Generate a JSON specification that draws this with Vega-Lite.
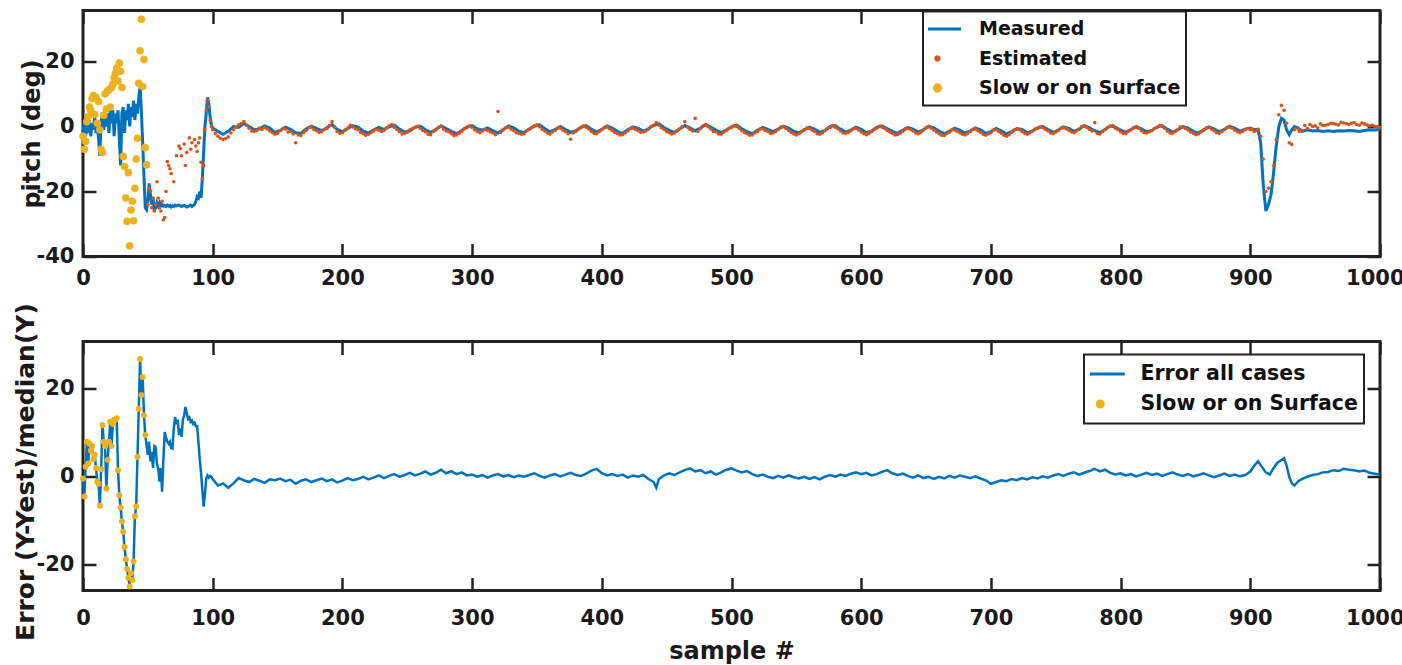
{
"$schema": "https://vega.github.io/schema/vega-lite/v6.json",
"background": "white",
"padding": {"left": 11, "top": 7.5, "right": 0, "bottom": 0},
"bounds": "flush",
"spacing": 85,
"config": {
  "view": {"stroke": "#222", "strokeWidth": 3},
  "axis": {"labelFont": "DejaVu Sans", "labelFontWeight": "bold", "labelFontSize": 21, "labelColor": "#1a1a1a", "titleFont": "DejaVu Sans", "titleFontWeight": "bold", "titleFontSize": 24, "titleColor": "#1a1a1a", "domain": false, "grid": false, "tickColor": "#222", "tickWidth": 2.5, "tickSize": -13, "labelOverlap": false, "labelExpr": "'' + datum.value"},
  "legend": {"labelFont": "DejaVu Sans", "labelFontWeight": "bold", "labelColor": "#111", "strokeColor": "#222", "strokeWidth": 2, "fillColor": "white", "orient": "none", "title": null, "labelLimit": 400}
},
"resolve": {"scale": {"color": "independent", "y": "independent"}},
"datasets": {
"p": [
{"s":0,"m":-2,"sl":-3},{"s":1,"m":2,"sl":-7},{"s":2,"m":-3,"sl":-4.6},{"s":3,"m":1,"sl":1.5},{"s":4,"m":-2,"sl":3},{"s":5,"m":2,"sl":6},{"s":6,"m":-3,"sl":5},{"s":7,"m":1,"sl":8.6},{"s":8,"m":-1,"sl":9.5},{"s":9,"m":3,"sl":3.7},{"s":10,"m":-2,"sl":9},{"s":11,"m":1,"sl":1},{"s":12,"m":-4,"sl":7.7},{"s":13,"m":-9,"sl":-1},{"s":14,"m":2,"sl":-7},{"s":15,"m":3,"sl":-8},{"s":16,"m":-1,"sl":3.5},{"s":17,"m":4,"sl":10},{"s":18,"m":0,"sl":5.4},{"s":19,"m":4,"sl":11},{"s":20,"m":-2,"sl":11.3},{"s":21,"m":5,"sl":6},{"s":22,"m":1,"sl":12},{"s":23,"m":5,"sl":13},{"s":24,"m":-3,"sl":15},{"s":25,"m":4,"sl":16.4},{"s":26,"m":1,"sl":18},{"s":27,"m":5,"sl":14},{"s":28,"m":-4,"sl":19.5},{"s":29,"m":-12,"sl":17},{"s":30,"m":4,"sl":12},{"s":31,"m":6,"sl":-9.2},{"s":32,"m":-2,"sl":-12.3},{"s":33,"m":5,"sl":-22},{"s":34,"m":2,"sl":-29.2},{"s":35,"m":7,"sl":-14.2},{"s":36,"m":0,"sl":-36.7},{"s":37,"m":6,"sl":-25.7},{"s":38,"m":3,"sl":-23},{"s":39,"m":8,"sl":-29},{"s":40,"m":2,"sl":-19},{"s":41,"m":7,"sl":-10},{"s":42,"m":4,"sl":-3.6},{"s":43,"m":9,"sl":13.3},{"s":44,"m":12,"sl":23.3},{"s":45,"m":5,"sl":33},{"s":46,"m":-5,"sl":12.3},{"s":47,"m":-15,"sl":20.6},{"s":48,"m":-25,"sl":-6.5},{"s":49,"m":-25.6,"sl":-11.8},
{"s":50,"m":-23,"e":-24},{"s":51,"m":-17.5,"e":-19},{"s":52,"m":-21,"e":-20},{"s":53,"m":-24,"e":-25},{"s":54,"m":-22,"e":-22},{"s":55,"m":-26,"e":-26},{"s":56,"m":-25,"e":-24},{"s":57,"m":-23.5,"e":-17},{"s":58,"m":-24.5,"e":-22},{"s":59,"m":-23.5,"e":-25},{"s":60,"m":-24.5,"e":-26},{"s":61,"m":-24,"e":-23},{"s":62,"m":-24.5,"e":-28.7},{"s":63,"m":-24.3,"e":-28},{"s":64,"m":-24.6,"e":-20},{"s":65,"m":-24.2,"e":-10.8},{"s":66,"m":-24.5,"e":-12},{"s":67,"m":-24.3,"e":-13},{"s":68,"m":-24.8,"e":-14.5},{"s":69,"m":-24.4},{"s":70,"m":-24.6,"e":-17},{"s":71,"m":-24.2},{"s":72,"m":-24.4,"e":-9},{"s":74,"m":-24.2,"e":-6},{"s":75,"m":-24.4,"e":-6.8},{"s":76,"m":-24.6,"e":-9},{"s":78,"m":-24.3,"e":-5.4},{"s":79,"m":-24.5,"e":-12},{"s":80,"m":-24.8,"e":-8},{"s":82,"m":-24.4,"e":-3.5},{"s":83,"m":-24.2,"e":-7},{"s":84,"m":-24.6,"e":-5},{"s":86,"m":-24,"e":-4},{"s":87,"m":-23,"e":-6},{"s":88,"m":-21.6,"e":-7.7},{"s":89,"m":-22,"e":-5},{"s":90,"m":-20,"e":-3.5},{"s":91,"m":-22,"e":-11},{"s":92,"m":-16,"e":-16},{"s":93,"m":-8,"e":-12},{"s":94,"m":0,"e":-1},{"s":95,"m":4,"e":5},{"s":96,"m":9,"e":8},{"s":97,"m":7,"e":6},{"s":98,"m":3,"e":2},{"s":99,"m":0.4,"e":0},
{"s":100,"m":-0.5,"e":-1},{"s":102,"e":-2.2},{"s":104,"m":-1.5,"e":-3},{"s":106,"e":-3.6},{"s":108,"m":-2.4,"e":-4},{"s":110,"e":-3.7},{"s":112,"m":-1.5,"e":-3.2},{"s":114,"e":-2},{"s":116,"m":0,"e":-1},{"s":118,"e":-0.2},{"s":120,"m":-0.3,"e":0.5},{"s":122,"e":0.9},{"s":124,"m":1,"e":1.5},{"s":126,"e":0.4},{"s":128,"m":0,"e":-0.5},{"s":130,"e":-1.4},{"s":132,"m":-1,"e":-1.5},{"s":134,"e":-1.2},{"s":136,"m":-0.8,"e":-0.5},{"s":138,"e":-0.9},{"s":140,"m":0.2,"e":-0.3},{"s":142,"e":-0.8},{"s":144,"m":-0.5,"e":-1.4},{"s":146,"e":-1.9},{"s":148,"m":-1.8,"e":-2.4},{"s":150,"e":-2.1},{"s":152,"m":-1.2,"e":-1.3},{"s":154,"e":-0.6},{"s":156,"m":-0.2,"e":-0.8},{"s":158,"e":-1.7},{"s":160,"m":-0.9,"e":-1.5},{"s":162,"e":-2.3},{"s":164,"m":-1.9,"e":-5},{"s":166,"e":-2.6},{"s":168,"m":-2.1,"e":-2.8},{"s":170,"e":-1.9},{"s":172,"m":-0.8,"e":-1.2},{"s":174,"e":-0.4},{"s":176,"m":0.1,"e":-0.2},{"s":178,"e":-0.9},{"s":180,"m":-0.6,"e":-1.3},{"s":182,"e":-1.8},{"s":184,"m":-1.3,"e":-1.6},{"s":186,"e":-0.9},{"s":188,"m":-0.4,"e":-0.6},{"s":190,"e":0.3},{"s":192,"m":0.6,"e":1.5},{"s":194,"e":-0.2},{"s":196,"m":-0.9,"e":-1.5},{"s":198,"e":-2.1},
{"s":200,"m":-1.6,"e":-1.9},{"s":202,"e":-1.1},{"s":204,"m":-0.7,"e":-0.5},{"s":206,"e":0.4},{"s":208,"m":0.3,"e":-0.1},{"s":210,"e":-0.7},{"s":212,"m":-0.2,"e":-1},{"s":214,"e":-1.8},{"s":216,"m":-1.4,"e":-2.2},{"s":218,"e":-2.7},{"s":220,"m":-2,"e":-2.4},{"s":222,"e":-1.9},{"s":224,"m":-1.1,"e":-1.4},{"s":226,"e":-0.8},{"s":228,"m":-0.3,"e":-1.1},{"s":230,"e":-1.5},{"s":232,"m":-0.9,"e":-1.2},{"s":234,"e":-0.5},{"s":236,"m":-0.1,"e":0.2},{"s":238,"e":0.6},{"s":240,"m":0.4,"e":-0.2},{"s":242,"e":-0.9},{"s":244,"m":-0.8,"e":-1.6},{"s":246,"e":-2.3},{"s":248,"m":-1.7,"e":-2.1},{"s":250,"e":-1.8},{"s":252,"m":-1.3,"e":-1},{"s":254,"e":-0.6},{"s":256,"m":-0.2,"e":-0.3},{"s":258,"e":0.1},{"s":260,"m":0.1,"e":-0.6},{"s":262,"e":-1.2},{"s":264,"m":-1,"e":-1.7},{"s":266,"e":-2.4},{"s":268,"m":-1.8,"e":-2.5},{"s":270,"e":-1.6},{"s":272,"m":-0.9,"e":-1.1},{"s":274,"e":-0.3},{"s":276,"m":0.2,"e":0},{"s":278,"e":-0.8},{"s":280,"m":-0.6,"e":-1.4},{"s":282,"e":-1.6},{"s":284,"m":-1.5,"e":-2.2},{"s":286,"e":-2.8},{"s":288,"m":-2.2,"e":-2.6},{"s":290,"e":-2.1},{"s":292,"m":-1.2,"e":-1.5},{"s":294,"e":-0.7},{"s":296,"m":-0.1,"e":-0.4},{"s":298,"e":0.2},
{"s":300,"m":0.3,"e":-0.3},{"s":302,"e":-1},{"s":304,"m":-0.7,"e":-1.5},{"s":306,"e":-1.9},{"s":308,"m":-1.1,"e":-1.4},{"s":310,"e":-0.9},{"s":312,"m":-0.4,"e":-1.2},{"s":314,"e":-1.7},{"s":316,"m":-1.3,"e":-2},{"s":318,"e":-2.5},{"s":320,"m":-2,"e":4.6},{"s":322,"e":-1.8},{"s":324,"m":-0.9,"e":-1.1},{"s":326,"e":-0.4},{"s":328,"m":0.2,"e":-0.2},{"s":330,"e":-0.8},{"s":332,"m":-0.4,"e":-1.3},{"s":334,"e":-1.9},{"s":336,"m":-1.4,"e":-2.1},{"s":338,"e":-2.4},{"s":340,"m":-1.9,"e":-2.2},{"s":342,"e":-1.3},{"s":344,"m":-0.8,"e":-0.9},{"s":346,"e":-0.3},{"s":348,"m":0.1,"e":0.2},{"s":350,"e":0.5},{"s":352,"m":0.5,"e":-0.1},{"s":354,"e":-0.9},{"s":356,"m":-0.6,"e":-1.4},{"s":358,"e":-2},{"s":360,"m":-1.6,"e":-2.3},{"s":362,"e":-1.7},{"s":364,"m":-1,"e":-1.2},{"s":366,"e":-0.4},{"s":368,"m":0,"e":-0.5},{"s":370,"e":-1.1},{"s":372,"m":-0.9,"e":-1.6},{"s":374,"e":-2.2},{"s":376,"m":-1.8,"e":-3.9},{"s":378,"e":-2},{"s":380,"m":-1.3,"e":-1.5},{"s":382,"e":-0.9},{"s":384,"m":-0.2,"e":-0.4},{"s":386,"e":0.2},{"s":388,"m":0.3,"e":-0.2},{"s":390,"e":-0.8},{"s":392,"m":-0.8,"e":-1.5},{"s":394,"e":-2.1},{"s":396,"m":-1.7,"e":-2.2},{"s":398,"e":-1.6},
{"s":400,"m":-0.9,"e":-1},{"s":402,"e":-0.3},{"s":404,"m":0.2,"e":-0.2},{"s":406,"e":-0.7},{"s":408,"m":-0.5,"e":-1.2},{"s":410,"e":-1.8},{"s":412,"m":-1.5,"e":-2.2},{"s":414,"e":-2.6},{"s":416,"m":-2.1,"e":-2.5},{"s":418,"e":-2},{"s":420,"m":-1,"e":-1.4},{"s":422,"e":-0.6},{"s":424,"m":-0.1,"e":-0.5},{"s":426,"e":-0.9},{"s":428,"m":-0.6,"e":-1.3},{"s":430,"e":-1.8},{"s":432,"m":-1.4,"e":-1.7},{"s":434,"e":-1.4},{"s":436,"m":-0.7,"e":-0.8},{"s":438,"e":0},{"s":440,"m":0.4,"e":0.3},{"s":442,"e":1.2},{"s":444,"m":0.8,"e":0.4},{"s":446,"e":-0.4},{"s":448,"m":-0.3,"e":-0.9},{"s":450,"e":-1.5},{"s":452,"m":-1.2,"e":-1.9},{"s":454,"e":-2.3},{"s":456,"m":-1.8,"e":-2},{"s":458,"e":-1.4},{"s":460,"m":-0.8,"e":-0.7},{"s":462,"e":0},{"s":464,"m":0.3,"e":1.5},{"s":466,"e":-0.2},{"s":468,"m":-0.4,"e":-0.9},{"s":470,"e":-1.4},{"s":472,"m":-1.3,"e":2.5},{"s":474,"e":-1.5},{"s":476,"m":-0.5,"e":-0.6},{"s":478,"e":0.2},{"s":480,"m":0.6,"e":0.5},{"s":482,"e":-0.1},{"s":484,"m":-0.2,"e":-0.8},{"s":486,"e":-1.5},{"s":488,"m":-1.1,"e":-1.7},{"s":490,"e":-2.3},{"s":492,"m":-1.9,"e":-2.4},{"s":494,"e":-1.8},{"s":496,"m":-1.1,"e":-1.2},{"s":498,"e":-0.6},
{"s":500,"m":-0.1,"e":-0.3},{"s":502,"e":0.2},{"s":504,"m":0.4,"e":0},{"s":506,"e":-0.6},{"s":508,"m":-0.7,"e":-1.3},{"s":510,"e":-1.9},{"s":512,"m":-1.6,"e":-2.2},{"s":514,"e":-2.7},{"s":516,"m":-2.2,"e":-2.6},{"s":518,"e":-2},{"s":520,"m":-1.2,"e":-1.5},{"s":522,"e":-0.8},{"s":524,"m":-0.3,"e":-0.7},{"s":526,"e":-1.2},{"s":528,"m":-0.9,"e":-1.5},{"s":530,"e":-2.1},{"s":532,"m":-1.6,"e":-2},{"s":534,"e":-1.5},{"s":536,"m":-0.8,"e":-0.9},{"s":538,"e":-0.2},{"s":540,"m":0.1,"e":-0.1},{"s":542,"e":-0.6},{"s":544,"m":-0.5,"e":-1.2},{"s":546,"e":-1.8},{"s":548,"m":-1.5,"e":-2.3},{"s":550,"e":-2.6},{"s":552,"m":-2,"e":-2.2},{"s":554,"e":-1.6},{"s":556,"m":-1,"e":-1.1},{"s":558,"e":-0.5},{"s":560,"m":-0.2,"e":-0.6},{"s":562,"e":-1.1},{"s":564,"m":-0.8,"e":-1.5},{"s":566,"e":-2.2},{"s":568,"m":-1.8,"e":-2.4},{"s":570,"e":-2},{"s":572,"m":-1.2,"e":-1.3},{"s":574,"e":-0.6},{"s":576,"m":0,"e":-0.3},{"s":578,"e":0.3},{"s":580,"m":0.3,"e":-0.2},{"s":582,"e":-0.7},{"s":584,"m":-0.8,"e":-1.4},{"s":586,"e":-2},{"s":588,"m":-1.7,"e":-2.1},{"s":590,"e":-1.8},{"s":592,"m":-1.1,"e":-1.3},{"s":594,"e":-0.7},{"s":596,"m":-0.2,"e":-0.6},{"s":598,"e":-1.1},
{"s":600,"m":-0.9,"e":-1.7},{"s":602,"e":-2.2},{"s":604,"m":-1.9,"e":-2.5},{"s":606,"e":-2.1},{"s":608,"m":-1.4,"e":-1.6},{"s":610,"e":-0.9},{"s":612,"m":-0.3,"e":-0.5},{"s":614,"e":0.1},{"s":616,"m":0.2,"e":-0.2},{"s":618,"e":-0.6},{"s":620,"m":-0.6,"e":-1.2},{"s":622,"e":-1.7},{"s":624,"m":-1.5,"e":-2.1},{"s":626,"e":-2.6},{"s":628,"m":-2.1,"e":-2.5},{"s":630,"e":-2.1},{"s":632,"m":-1.2,"e":-1.5},{"s":634,"e":-0.8},{"s":636,"m":-0.3,"e":-0.6},{"s":638,"e":-0.9},{"s":640,"m":-0.8,"e":-1.4},{"s":642,"e":-2},{"s":644,"m":-1.7,"e":-2.2},{"s":646,"e":-1.8},{"s":648,"m":-1,"e":-1.1},{"s":650,"e":-0.3},{"s":652,"m":0.1,"e":-0.1},{"s":654,"e":-0.5},{"s":656,"m":-0.4,"e":-1.1},{"s":658,"e":-1.7},{"s":660,"m":-1.4,"e":-2.2},{"s":662,"e":-2.7},{"s":664,"m":-2.2,"e":-2.8},{"s":666,"e":-2.2},{"s":668,"m":-1.5,"e":-1.8},{"s":670,"e":-1},{"s":672,"m":-0.5,"e":-1.1},{"s":674,"e":-1.5},{"s":676,"m":-1.1,"e":-1.9},{"s":678,"e":-2.4},{"s":680,"m":-2,"e":-2.6},{"s":682,"e":-2.2},{"s":684,"m":-1.4,"e":-1.6},{"s":686,"e":-0.9},{"s":688,"m":-0.4,"e":-0.8},{"s":690,"e":-1.3},{"s":692,"m":-1,"e":-1.8},{"s":694,"e":-2.4},{"s":696,"m":-2.1,"e":-2.7},{"s":698,"e":-2.3},
{"s":700,"m":-1.6,"e":-1.9},{"s":702,"e":-1.1},{"s":704,"m":-0.6,"e":-1},{"s":706,"e":-1.5},{"s":708,"m":-1.3,"e":-2.1},{"s":710,"e":-2.7},{"s":712,"m":-2.3,"e":-3},{"s":714,"e":-2.5},{"s":716,"m":-1.6,"e":-1.8},{"s":718,"e":-1.1},{"s":720,"m":-0.6,"e":-0.9},{"s":722,"e":-1},{"s":724,"m":-0.9,"e":-1.5},{"s":726,"e":-2.1},{"s":728,"m":-1.9,"e":-2.4},{"s":730,"e":-2},{"s":732,"m":-1.4,"e":-1.5},{"s":734,"e":-0.8},{"s":736,"m":-0.4,"e":-0.6},{"s":738,"e":-0.1},{"s":740,"m":0,"e":-0.4},{"s":742,"e":-0.9},{"s":744,"m":-0.9,"e":-1.4},{"s":746,"e":-2},{"s":748,"m":-1.8,"e":-2.2},{"s":750,"e":-1.7},{"s":752,"m":-1.1,"e":-1.2},{"s":754,"e":-0.5},{"s":756,"m":-0.1,"e":-0.4},{"s":758,"e":-0.7},{"s":760,"m":-0.6,"e":-1.1},{"s":762,"e":-1.6},{"s":764,"m":-1.5,"e":-1.9},{"s":766,"e":-1.4},{"s":768,"m":-0.8,"e":-0.8},{"s":770,"e":0},{"s":772,"m":0.3,"e":0.1},{"s":774,"e":-0.3},{"s":776,"m":-0.4,"e":-0.9},{"s":778,"e":-1.4},{"s":780,"m":-1.3,"e":1.2},{"s":782,"e":-2.1},{"s":784,"m":-1.9,"e":-2.3},{"s":786,"e":-1.6},{"s":788,"m":-0.9,"e":-1},{"s":790,"e":-0.3},{"s":792,"m":0.2,"e":0},{"s":794,"e":0.3},{"s":796,"m":-0.2,"e":-0.5},{"s":798,"e":-1},
{"s":800,"m":-1.1,"e":-1.6},{"s":802,"e":-2.1},{"s":804,"m":-1.8,"e":-2.2},{"s":806,"e":-1.5},{"s":808,"m":-0.9,"e":-1},{"s":810,"e":-0.4},{"s":812,"m":0,"e":-0.2},{"s":814,"e":-0.6},{"s":816,"m":-0.7,"e":-1.3},{"s":818,"e":-1.9},{"s":820,"m":-1.6,"e":-2},{"s":822,"e":-1.7},{"s":824,"m":-1.2,"e":-1.3},{"s":826,"e":-0.6},{"s":828,"m":-0.2,"e":-0.3},{"s":830,"e":0.3},{"s":832,"m":0.3,"e":0},{"s":834,"e":-0.5},{"s":836,"m":-0.8,"e":-1.4},{"s":838,"e":-2},{"s":840,"m":-1.7,"e":-2.1},{"s":842,"e":-1.6},{"s":844,"m":-1,"e":-1},{"s":846,"e":-0.2},{"s":848,"m":0,"e":-0.2},{"s":850,"e":-0.6},{"s":852,"m":-0.5,"e":-1.1},{"s":854,"e":-1.7},{"s":856,"m":-1.5,"e":-2.1},{"s":858,"e":-2.5},{"s":860,"m":-2,"e":-2.3},{"s":862,"e":-1.7},{"s":864,"m":-1,"e":-1.2},{"s":866,"e":-0.5},{"s":868,"m":-0.1,"e":-0.3},{"s":870,"e":-0.8},{"s":872,"m":-0.7,"e":-1.3},{"s":874,"e":-1.9},{"s":876,"m":-1.6,"e":-2.1},{"s":878,"e":-1.6},{"s":880,"m":-0.9,"e":-1},{"s":882,"e":-0.3},{"s":884,"m":0.1,"e":-0.2},{"s":886,"e":-0.5},{"s":888,"m":-0.5,"e":-1.1},{"s":890,"e":-1.6},{"s":892,"m":-1.4,"e":-1.9},{"s":894,"e":-1.5},{"s":896,"m":-0.8,"e":-1},{"s":898,"e":-0.7},
{"s":900,"m":-0.5,"e":-1},{"s":901,"e":-0.6},{"s":903,"m":-1,"e":-1.5},{"s":905,"e":-1.2},{"s":906,"m":-0.8,"e":-1},{"s":908,"m":-5,"e":-3},{"s":910,"m":-18,"e":-10},{"s":912,"m":-26,"e":-20},{"s":914,"m":-24,"e":-19},{"s":916,"m":-21,"e":-17},{"s":918,"m":-14,"e":-12},{"s":920,"m":-6,"e":-4},{"s":922,"m":0,"e":3.6},{"s":924,"m":2.5,"e":6.5},{"s":926,"m":2,"e":5},{"s":928,"m":-1,"e":1},{"s":930,"m":-2.5,"e":-5},{"s":932,"m":-1,"e":-5.5},{"s":934,"m":0,"e":-1},{"s":937,"m":-0.5,"e":-0.8},{"s":938,"e":-1.5},{"s":940,"m":-1.5,"e":-1.2},{"s":942,"e":0.3},{"s":944,"m":-1,"e":-0.6},{"s":946,"e":0.6},{"s":948,"m":-1.4,"e":0},{"s":950,"e":0.2},{"s":952,"m":-1.2,"e":-0.4},{"s":954,"e":0.8},{"s":956,"m":-1.5,"e":0.3},{"s":958,"e":0.4},{"s":960,"m":-1.3,"e":0.6},{"s":962,"e":1},{"s":964,"m":-1.5,"e":0.9},{"s":966,"e":0.7},{"s":968,"m":-1.3,"e":0.5},{"s":970,"e":1.3},{"s":972,"m":-1.4,"e":1.1},{"s":974,"e":0.9},{"s":976,"m":-1.2,"e":0.6},{"s":978,"e":1},{"s":980,"m":-1.3,"e":1.2},{"s":982,"e":0.6},{"s":984,"m":-1.5,"e":0.4},{"s":986,"e":1.1},{"s":988,"m":-1.2,"e":0.8},{"s":990,"e":0.5},{"s":992,"m":-1,"e":0.2},{"s":994,"e":0.4},{"s":996,"m":-1.1,"e":0.1},{"s":998,"e":0},{"s":1000,"m":-0.9,"e":-0.3}
],
"r": [
{"s":0,"r":-0.4,"sl":-0.4},{"s":1,"r":-4.5,"sl":-4.5},{"s":2,"r":2.3,"sl":2.3},{"s":3,"r":8,"sl":8},{"s":4,"r":3,"sl":3},{"s":5,"r":7.5,"sl":7.5},{"s":6,"r":6,"sl":6},{"s":7,"r":7,"sl":7},{"s":8,"r":4,"sl":4},{"s":9,"r":5,"sl":5},{"s":10,"r":2,"sl":2},{"s":11,"r":-1.1,"sl":-1.1},{"s":12,"r":-1.6,"sl":-1.6},{"s":13,"r":-6.6,"sl":-6.6},{"s":14,"r":1.7,"sl":1.7},{"s":15,"r":11.8,"sl":11.8},{"s":16,"r":8,"sl":8},{"s":17,"r":7,"sl":7},{"s":18,"r":-2.7,"sl":-2.7},{"s":19,"r":3.9,"sl":3.9},{"s":20,"r":8,"sl":8},{"s":21,"r":12.5,"sl":12.5},{"s":22,"r":7,"sl":7},{"s":23,"r":12,"sl":12},{"s":24,"r":13,"sl":13},{"s":25,"r":13,"sl":13},{"s":26,"r":13.3,"sl":13.3},{"s":27,"r":1.5,"sl":1.5},{"s":28,"r":-4.2,"sl":-4.2},{"s":29,"r":-7,"sl":-7},{"s":30,"r":-10.2,"sl":-10.2},{"s":31,"r":-12.5,"sl":-12.5},{"s":32,"r":-16,"sl":-16},{"s":33,"r":-18.8,"sl":-18.8},{"s":34,"r":-21,"sl":-21},{"s":35,"r":-23,"sl":-23},{"s":36,"r":-25,"sl":-25},{"s":37,"r":-22,"sl":-22},{"s":38,"r":-23.5,"sl":-23.5},{"s":39,"r":-19.3,"sl":-19.3},{"s":40,"r":-9,"sl":-9},{"s":41,"r":-6.8,"sl":-6.8},{"s":42,"r":4.5,"sl":4.5},{"s":43,"r":15.5,"sl":15.5},{"s":44,"r":26.8,"sl":26.8},{"s":45,"r":18.6,"sl":18.6},{"s":46,"r":22.7,"sl":22.7},{"s":47,"r":14,"sl":14},{"s":48,"r":9.5,"sl":9.5},
{"s":50,"r":5},{"s":51,"r":8},{"s":52,"r":3.5},{"s":53,"r":5.7},{"s":54,"r":2},{"s":55,"r":7},{"s":56,"r":6.8},{"s":57,"r":3},{"s":58,"r":1.8},{"s":59,"r":-1.1},{"s":60,"r":2},{"s":61,"r":-3.4},{"s":62,"r":4},{"s":63,"r":10.2},{"s":64,"r":9},{"s":65,"r":8},{"s":66,"r":7.5},{"s":67,"r":8},{"s":68,"r":6.5},{"s":69,"r":6.4},{"s":70,"r":11},{"s":71,"r":13.6},{"s":72,"r":12},{"s":73,"r":13},{"s":74,"r":9.5},{"s":75,"r":11},{"s":76,"r":9.1},{"s":77,"r":13},{"s":78,"r":14},{"s":79,"r":15.9},{"s":80,"r":14.5},{"s":81,"r":13.2},{"s":82,"r":13.5},{"s":83,"r":12.5},{"s":84,"r":12.8},{"s":85,"r":12},{"s":86,"r":12.3},{"s":87,"r":11.5},{"s":88,"r":11.5},{"s":89,"r":8},{"s":90,"r":4},{"s":91,"r":1},{"s":92,"r":-3},{"s":93,"r":-6.8},{"s":94,"r":-4},{"s":95,"r":-0.4},{"s":96,"r":0.3},{"s":97,"r":-0.2},{"s":98,"r":0.2},{"s":99,"r":0},
{"s":100,"r":-0.5},{"s":104,"r":-2},{"s":108,"r":-1.5},{"s":112,"r":-2.5},{"s":116,"r":-1.5},{"s":120,"r":-0.3},{"s":124,"r":-0.8},{"s":128,"r":-1.2},{"s":132,"r":-0.5},{"s":136,"r":-0.9},{"s":140,"r":-1.4},{"s":144,"r":-0.6},{"s":148,"r":-0.8},{"s":152,"r":-0.4},{"s":156,"r":-1},{"s":160,"r":-0.7},{"s":164,"r":-1.6},{"s":168,"r":-0.9},{"s":172,"r":-0.6},{"s":176,"r":-1.2},{"s":180,"r":-0.8},{"s":184,"r":-0.4},{"s":188,"r":-1},{"s":192,"r":-0.6},{"s":196,"r":-1.3},{"s":200,"r":-0.9},{"s":204,"r":-0.3},{"s":208,"r":-0.8},{"s":212,"r":-0.5},{"s":216,"r":0},{"s":220,"r":-0.6},{"s":224,"r":-0.2},{"s":228,"r":0.3},{"s":232,"r":-0.3},{"s":236,"r":0.2},{"s":240,"r":0.6},{"s":244,"r":0},{"s":248,"r":0.4},{"s":252,"r":0.9},{"s":256,"r":0.3},{"s":260,"r":0.7},{"s":264,"r":1.2},{"s":268,"r":0.5},{"s":272,"r":0.9},{"s":276,"r":1.6},{"s":280,"r":0.8},{"s":284,"r":1.3},{"s":288,"r":0.6},{"s":292,"r":1},{"s":296,"r":0.3},{"s":300,"r":0.5},{"s":304,"r":0},{"s":308,"r":0.4},{"s":312,"r":-0.2},{"s":316,"r":0.3},{"s":320,"r":0.6},{"s":324,"r":0.1},{"s":328,"r":0.4},{"s":332,"r":-0.1},{"s":336,"r":0.3},{"s":340,"r":0},{"s":344,"r":0.4},{"s":348,"r":0.8},{"s":352,"r":0.2},{"s":356,"r":-0.2},{"s":360,"r":0.3},{"s":364,"r":0.6},{"s":368,"r":0.1},{"s":372,"r":0.5},{"s":376,"r":0.9},{"s":380,"r":0.4},{"s":384,"r":0.2},{"s":388,"r":0.7},{"s":392,"r":1.4},{"s":396,"r":1.8},{"s":400,"r":0.8},{"s":404,"r":0.3},{"s":408,"r":0.6},{"s":412,"r":0.2},{"s":416,"r":0.5},{"s":420,"r":-0.2},{"s":424,"r":0.3},{"s":428,"r":0},{"s":432,"r":0.4},{"s":436,"r":-0.5},{"s":440,"r":-1.2},{"s":442,"r":-2.5},{"s":444,"r":-0.5},{"s":448,"r":0.3},{"s":452,"r":0.8},{"s":456,"r":0.4},{"s":460,"r":1},{"s":464,"r":1.5},{"s":468,"r":1.9},{"s":472,"r":1.2},{"s":476,"r":1.5},{"s":480,"r":0.8},{"s":484,"r":1.2},{"s":488,"r":0.5},{"s":492,"r":1},{"s":496,"r":1.6},{"s":500,"r":1.9},{"s":504,"r":1.4},{"s":508,"r":1},{"s":512,"r":1.3},{"s":516,"r":0.6},{"s":520,"r":0.2},{"s":524,"r":0.5},{"s":528,"r":0},{"s":532,"r":-0.3},{"s":536,"r":0.2},{"s":540,"r":-0.2},{"s":544,"r":0.3},{"s":548,"r":-0.1},{"s":552,"r":-0.4},{"s":556,"r":0},{"s":560,"r":-0.5},{"s":564,"r":-0.1},{"s":568,"r":-0.6},{"s":572,"r":0},{"s":576,"r":0.4},{"s":580,"r":0},{"s":584,"r":0.5},{"s":588,"r":0.2},{"s":592,"r":0.7},{"s":596,"r":1},{"s":600,"r":0.6},{"s":604,"r":0.9},{"s":608,"r":0.3},{"s":612,"r":0.6},{"s":616,"r":1.1},{"s":620,"r":1.5},{"s":624,"r":0.8},{"s":628,"r":0.4},{"s":632,"r":0.7},{"s":636,"r":0.2},{"s":640,"r":-0.2},{"s":644,"r":0.3},{"s":648,"r":-0.3},{"s":652,"r":0},{"s":656,"r":-0.5},{"s":660,"r":0},{"s":664,"r":-0.4},{"s":668,"r":0.2},{"s":672,"r":-0.2},{"s":676,"r":0.3},{"s":680,"r":0},{"s":684,"r":-0.3},{"s":688,"r":0.1},{"s":692,"r":-0.4},{"s":696,"r":-0.8},{"s":700,"r":-1.6},{"s":704,"r":-1.2},{"s":708,"r":-0.8},{"s":712,"r":-1},{"s":716,"r":-0.5},{"s":720,"r":-0.8},{"s":724,"r":-0.3},{"s":728,"r":-0.6},{"s":732,"r":-0.1},{"s":736,"r":-0.4},{"s":740,"r":0.1},{"s":744,"r":-0.2},{"s":748,"r":0.3},{"s":752,"r":0.6},{"s":756,"r":0.2},{"s":760,"r":0.7},{"s":764,"r":1},{"s":768,"r":0.5},{"s":772,"r":0.9},{"s":776,"r":1.3},{"s":780,"r":1.8},{"s":784,"r":1.2},{"s":788,"r":1.6},{"s":792,"r":0.9},{"s":796,"r":0.5},{"s":800,"r":0.8},{"s":804,"r":0.3},{"s":808,"r":0.6},{"s":812,"r":0.1},{"s":816,"r":0.5},{"s":820,"r":0.9},{"s":824,"r":0.4},{"s":828,"r":0.7},{"s":832,"r":0.2},{"s":836,"r":0.6},{"s":840,"r":1},{"s":844,"r":0.5},{"s":848,"r":0.2},{"s":852,"r":0.6},{"s":856,"r":0.1},{"s":860,"r":0.4},{"s":864,"r":0.8},{"s":868,"r":0.3},{"s":872,"r":-0.1},{"s":876,"r":0.3},{"s":880,"r":0.7},{"s":884,"r":0.2},{"s":888,"r":0.5},{"s":892,"r":0.1},{"s":896,"r":0.4},{"s":900,"r":1.2},{"s":903,"r":2.5},{"s":906,"r":3.5},{"s":909,"r":2.2},{"s":912,"r":1},{"s":915,"r":0.5},{"s":918,"r":2},{"s":921,"r":3.2},{"s":924,"r":3.8},{"s":926,"r":4.2},{"s":928,"r":2.5},{"s":930,"r":0},{"s":932,"r":-1.5},{"s":934,"r":-2},{"s":937,"r":-1},{"s":940,"r":-0.5},{"s":944,"r":0},{"s":948,"r":0.4},{"s":952,"r":0.6},{"s":956,"r":1},{"s":960,"r":1.1},{"s":964,"r":1.5},{"s":968,"r":1.3},{"s":972,"r":1.8},{"s":976,"r":1.6},{"s":980,"r":1.5},{"s":984,"r":1.2},{"s":988,"r":1.4},{"s":992,"r":0.9},{"s":996,"r":0.7},{"s":1000,"r":0.5}
]
},
"vconcat": [
{
  "width": 1297, "height": 246,
  "data": {"name": "p"},
  "resolve": {"axis": {"x": "independent", "y": "independent"}},
  "layer": [
    {"mark": {"type": "line", "strokeWidth": 3, "color": "#0072BD", "invalid": "filter"},
     "encoding": {
       "x": {"field": "s", "type": "quantitative", "scale": {"domain": [0, 1000], "nice": false, "zero": false},
             "axis": {"values": [0,100,200,300,400,500,600,700,800,900,1000], "title": null, "labelPadding": 24, "labelFlush": false,
                      "labelAlign": {"condition": {"test": "datum.value === 1000", "value": "right"}, "value": "center"},
                      "labelOffset": {"condition": {"test": "datum.value === 1000", "value": 24}, "value": 0}}},
       "y": {"field": "m", "type": "quantitative", "scale": {"domain": [-40, 35.7], "nice": false, "zero": false},
             "axis": {"values": [-40,-20,0,20], "title": "pitch (deg)", "labelPadding": 22, "titleX": -44, "titleBaseline": "alphabetic", "titleAngle": 270}},
       "color": {"datum": "Measured", "type": "nominal",
                 "scale": {"domain": ["Measured", "Estimated", "Slow or on Surface"], "range": ["#0072BD", "#D95319", "#EDB120"]},
                 "legend": {"orient": "none", "legendX": 840, "legendY": 1, "title": null, "labelFontSize": 19, "symbolSize": 2209, "symbolStrokeWidth": 0, "clipHeight": 25, "rowPadding": 4.5, "padding": 5, "labelOffset": 32,
                   "encode": {"symbols": {"update": {
                     "shape": {"signal": "datum.value === 'Measured' ? 'stroke' : 'circle'"},
                     "size": {"signal": "datum.value === 'Measured' ? 2209 : (datum.value === 'Estimated' ? 12 : 40)"},
                     "fill": {"signal": "datum.value === 'Measured' ? 'transparent' : (datum.value === 'Estimated' ? '#B86A5A' : '#EDB120')"},
                     "stroke": {"signal": "datum.value === 'Measured' ? '#0072BD' : 'transparent'"},
                     "strokeWidth": {"value": 3},
                     "opacity": {"value": 1}}}}}}
     }},
    {"mark": {"type": "point", "filled": true, "size": 13, "opacity": 1},
     "encoding": {
       "x": {"field": "s", "type": "quantitative", "axis": {"orient": "top", "values": [0,100,200,300,400,500,600,700,800,900,1000], "labels": false, "title": null}},
       "y": {"field": "e", "type": "quantitative", "axis": {"orient": "right", "values": [-40,-20,0,20], "labels": false, "title": null}},
       "color": {"datum": "Estimated", "type": "nominal"}
     }},
    {"mark": {"type": "point", "filled": true, "size": 58, "opacity": 1},
     "encoding": {
       "x": {"field": "s", "type": "quantitative", "axis": null},
       "y": {"field": "sl", "type": "quantitative", "axis": null},
       "color": {"datum": "Slow or on Surface", "type": "nominal"}
     }}
  ]
},
{
  "width": 1297, "height": 249,
  "data": {"name": "r"},
  "resolve": {"axis": {"x": "independent", "y": "independent"}},
  "layer": [
    {"mark": {"type": "line", "strokeWidth": 2.5, "invalid": "filter"},
     "encoding": {
       "x": {"field": "s", "type": "quantitative", "scale": {"domain": [0, 1000], "nice": false, "zero": false},
             "axis": {"values": [0,100,200,300,400,500,600,700,800,900,1000], "title": "sample #", "titleY": 68, "titleBaseline": "alphabetic", "labelPadding": 30, "labelFlush": false,
                      "labelAlign": {"condition": {"test": "datum.value === 1000", "value": "right"}, "value": "center"},
                      "labelOffset": {"condition": {"test": "datum.value === 1000", "value": 24}, "value": 0}}},
       "y": {"field": "r", "type": "quantitative", "scale": {"domain": [-25.9, 30.8], "nice": false, "zero": false},
             "axis": {"values": [-20,0,20], "title": "Error (Y-Yest)/median(Y)", "titleFontSize": 25, "labelPadding": 22, "titleX": -50, "titleY": 130, "titleBaseline": "alphabetic", "titleAngle": 270}},
       "color": {"datum": "Error all cases", "type": "nominal",
                 "scale": {"domain": ["Error all cases", "Slow or on Surface"], "range": ["#0072BD", "#EDB120"]},
                 "legend": {"orient": "none", "legendX": 1001, "legendY": 13, "title": null, "labelFontSize": 20.5, "symbolSize": 2401, "symbolStrokeWidth": 0, "clipHeight": 27, "rowPadding": 3, "padding": 6, "labelOffset": 30,
                   "encode": {"symbols": {"update": {
                     "shape": {"signal": "datum.value === 'Error all cases' ? 'stroke' : 'circle'"},
                     "size": {"signal": "datum.value === 'Error all cases' ? 2401 : 36"},
                     "fill": {"signal": "datum.value === 'Error all cases' ? 'transparent' : '#EDB120'"},
                     "stroke": {"signal": "datum.value === 'Error all cases' ? '#0072BD' : 'transparent'"},
                     "strokeWidth": {"value": 3},
                     "opacity": {"value": 1}}}}}}
     }},
    {"mark": {"type": "point", "filled": true, "size": 36, "opacity": 1},
     "encoding": {
       "x": {"field": "s", "type": "quantitative", "axis": {"orient": "top", "values": [0,100,200,300,400,500,600,700,800,900,1000], "labels": false, "title": null}},
       "y": {"field": "sl", "type": "quantitative", "axis": {"orient": "right", "values": [-20,0,20], "labels": false, "title": null}},
       "color": {"datum": "Slow or on Surface", "type": "nominal"}
     }}
  ]
}
]
}
